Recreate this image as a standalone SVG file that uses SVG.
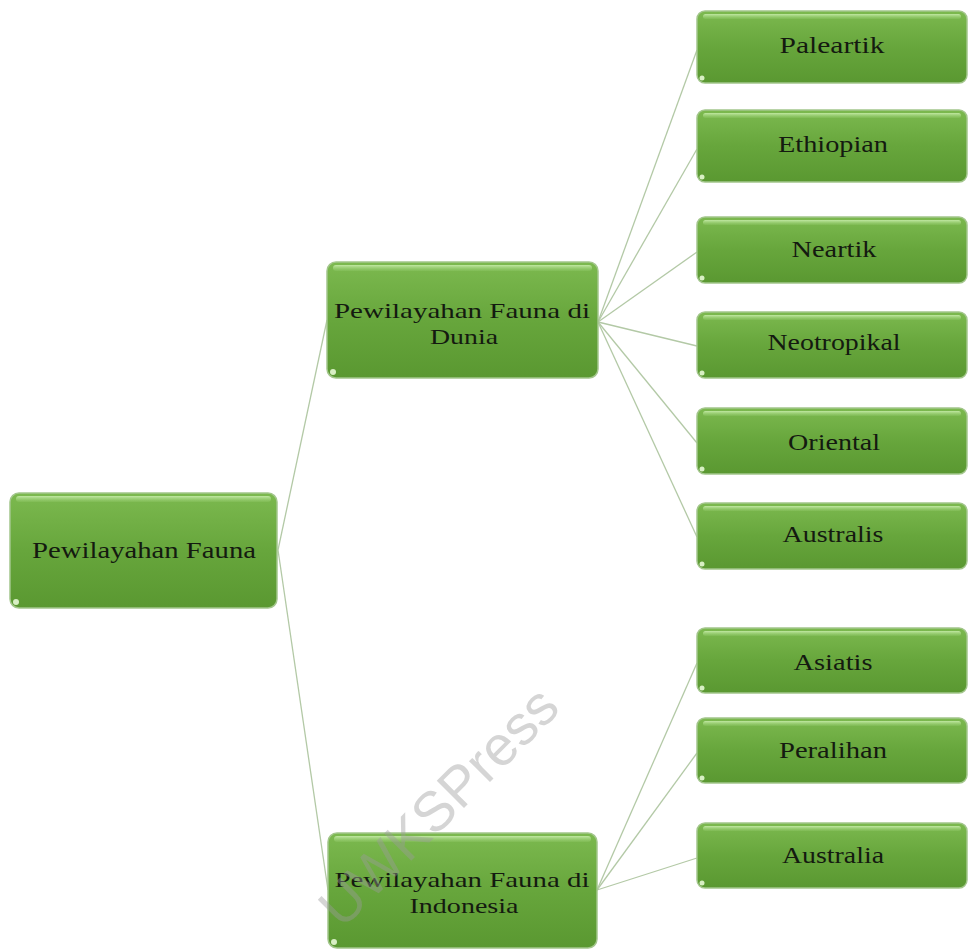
<svg xmlns="http://www.w3.org/2000/svg" width="970" height="950" viewBox="0 0 970 950">
<defs>
<linearGradient id="g" x1="0" y1="0" x2="0" y2="1">
<stop offset="0" stop-color="#7cb94f"/>
<stop offset="0.5" stop-color="#67a63c"/>
<stop offset="1" stop-color="#5a9831"/>
</linearGradient>
<linearGradient id="hl" x1="0" y1="0" x2="0" y2="1">
<stop offset="0" stop-color="#c4eaa6" stop-opacity="0.95"/>
<stop offset="1" stop-color="#9fd47a" stop-opacity="0.2"/>
</linearGradient>
</defs>
<style>
.box{fill:url(#g);stroke:#a3c68c;stroke-width:1.5}
.hl{fill:url(#hl)}
.dot{fill:#d8efc4}
.t{font-family:"Liberation Serif","Times New Roman",serif;font-size:24px;fill:#141a10;text-anchor:middle}
.t2{font-size:22px}
.c{stroke:#b3c9a6;stroke-width:1.3;fill:none}
.wm{font-family:"Liberation Sans",Arial,sans-serif;font-size:56px;fill:#9a9a9a;fill-opacity:0.42;text-anchor:middle}
</style>
<rect width="970" height="950" fill="#ffffff"/>
<g id="connectors">
<line class="c" x1="278" y1="550" x2="327" y2="320"/>
<line class="c" x1="278" y1="550" x2="328" y2="890"/>
<line class="c" x1="598" y1="322" x2="697" y2="50"/>
<line class="c" x1="598" y1="322" x2="697" y2="149"/>
<line class="c" x1="598" y1="322" x2="697" y2="252"/>
<line class="c" x1="598" y1="322" x2="697" y2="346"/>
<line class="c" x1="598" y1="322" x2="697" y2="443"/>
<line class="c" x1="598" y1="322" x2="697" y2="537"/>
<line class="c" x1="597" y1="890" x2="697" y2="663"/>
<line class="c" x1="597" y1="890" x2="697" y2="753"/>
<line class="c" x1="597" y1="890" x2="697" y2="858"/>
</g>
<g id="root">
<rect class="box" x="10" y="493" width="267" height="115" rx="9"/>
<rect class="hl" x="16" y="496" width="255" height="6" rx="3"/>
<circle class="dot" cx="16" cy="602" r="3"/>
<text class="t" x="144" y="558" textLength="224" lengthAdjust="spacingAndGlyphs">Pewilayahan Fauna</text>
</g>
<g id="dunia">
<rect class="box" x="327" y="262" width="271" height="116" rx="9"/>
<rect class="hl" x="333" y="265" width="259" height="6" rx="3"/>
<circle class="dot" cx="333" cy="372" r="3"/>
<text class="t t2" x="462" y="318" textLength="256" lengthAdjust="spacingAndGlyphs">Pewilayahan Fauna di</text>
<text class="t t2" x="464" y="344" textLength="68" lengthAdjust="spacingAndGlyphs">Dunia</text>
</g>
<g id="indonesia">
<rect class="box" x="328" y="833" width="269" height="115" rx="9"/>
<rect class="hl" x="334" y="836" width="257" height="6" rx="3"/>
<circle class="dot" cx="334" cy="942" r="3"/>
<text class="t t2" x="462" y="887" textLength="255" lengthAdjust="spacingAndGlyphs">Pewilayahan Fauna di</text>
<text class="t t2" x="464" y="913" textLength="109" lengthAdjust="spacingAndGlyphs">Indonesia</text>
</g>
<g id="paleartik">
<rect class="box" x="697" y="11" width="270" height="72" rx="8"/>
<rect class="hl" x="703" y="14" width="258" height="5" rx="2.5"/>
<circle class="dot" cx="702" cy="78" r="2.5"/>
<text class="t" x="832" y="53" textLength="105" lengthAdjust="spacingAndGlyphs">Paleartik</text>
</g>
<g id="ethiopian">
<rect class="box" x="697" y="110" width="270" height="72" rx="8"/>
<rect class="hl" x="703" y="113" width="258" height="5" rx="2.5"/>
<circle class="dot" cx="702" cy="177" r="2.5"/>
<text class="t" x="833" y="152" textLength="110" lengthAdjust="spacingAndGlyphs">Ethiopian</text>
</g>
<g id="neartik">
<rect class="box" x="697" y="217" width="270" height="66" rx="8"/>
<rect class="hl" x="703" y="220" width="258" height="5" rx="2.5"/>
<circle class="dot" cx="702" cy="278" r="2.5"/>
<text class="t" x="834" y="257" textLength="85" lengthAdjust="spacingAndGlyphs">Neartik</text>
</g>
<g id="neotropikal">
<rect class="box" x="697" y="312" width="270" height="66" rx="8"/>
<rect class="hl" x="703" y="315" width="258" height="5" rx="2.5"/>
<circle class="dot" cx="702" cy="373" r="2.5"/>
<text class="t" x="834" y="350" textLength="133" lengthAdjust="spacingAndGlyphs">Neotropikal</text>
</g>
<g id="oriental">
<rect class="box" x="697" y="408" width="270" height="66" rx="8"/>
<rect class="hl" x="703" y="411" width="258" height="5" rx="2.5"/>
<circle class="dot" cx="702" cy="469" r="2.5"/>
<text class="t" x="834" y="450" textLength="92" lengthAdjust="spacingAndGlyphs">Oriental</text>
</g>
<g id="australis">
<rect class="box" x="697" y="503" width="270" height="66" rx="8"/>
<rect class="hl" x="703" y="506" width="258" height="5" rx="2.5"/>
<circle class="dot" cx="702" cy="564" r="2.5"/>
<text class="t" x="833" y="542" textLength="101" lengthAdjust="spacingAndGlyphs">Australis</text>
</g>
<g id="asiatis">
<rect class="box" x="697" y="628" width="270" height="65" rx="8"/>
<rect class="hl" x="703" y="631" width="258" height="5" rx="2.5"/>
<circle class="dot" cx="702" cy="688" r="2.5"/>
<text class="t" x="833" y="670" textLength="79" lengthAdjust="spacingAndGlyphs">Asiatis</text>
</g>
<g id="peralihan">
<rect class="box" x="697" y="718" width="270" height="65" rx="8"/>
<rect class="hl" x="703" y="721" width="258" height="5" rx="2.5"/>
<circle class="dot" cx="702" cy="778" r="2.5"/>
<text class="t" x="833" y="758" textLength="108" lengthAdjust="spacingAndGlyphs">Peralihan</text>
</g>
<g id="australia">
<rect class="box" x="697" y="823" width="270" height="65" rx="8"/>
<rect class="hl" x="703" y="826" width="258" height="5" rx="2.5"/>
<circle class="dot" cx="702" cy="883" r="2.5"/>
<text class="t" x="833" y="863" textLength="102" lengthAdjust="spacingAndGlyphs">Australia</text>
</g>
<text class="wm" transform="translate(452,820) rotate(-45)">UWKSPress</text>
</svg>
